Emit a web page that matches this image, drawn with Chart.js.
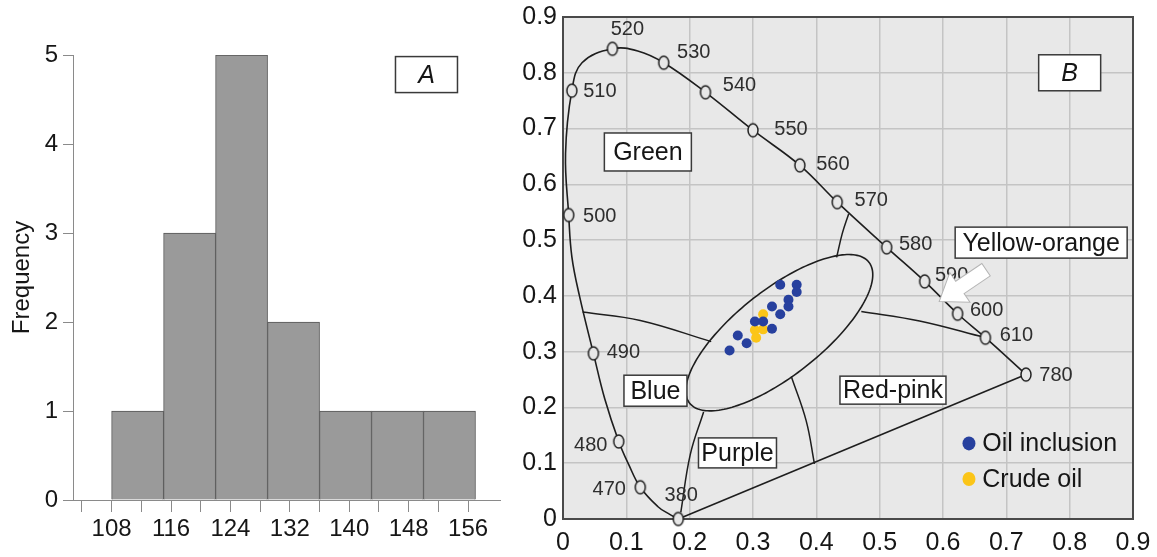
<!DOCTYPE html>
<html>
<head>
<meta charset="utf-8">
<script src="https://cdn.jsdelivr.net/npm/chart.js@4.4.1/dist/chart.umd.min.js"></script>
<style>
 html, body { margin:0; padding:0; background:#ffffff; overflow:hidden; }
 #boxA { position:absolute; left:0; top:0; width:505px; height:557px; }
 #boxB { position:absolute; left:505px; top:0; width:652px; height:557px; }
</style>
</head>
<body>
<div id="boxA"><canvas id="chartA" width="505" height="557"></canvas></div>
<div id="boxB"><canvas id="chartB" width="652" height="557"></canvas></div>
<script>
/* ================= DATA ================= */
/* Panel A: histogram */
const binEdges = [108, 115, 122, 129, 136, 143, 150, 157];
const frequencies = [1, 3, 5, 2, 1, 1, 1];
const histTickValues = [104, 108, 112, 116, 120, 124, 128, 132, 136, 140, 144, 148, 152, 156];
const histTickLabels = ['', '108', '', '116', '', '124', '', '132', '', '140', '', '148', '', '156'];
const freqTickValues = [0, 1, 2, 3, 4, 5];
const freqTickLabels = ['0', '1', '2', '3', '4', '5'];

/* Panel B: chromaticity diagram */
const locusX = [0.182, 0.166, 0.150, 0.122, 0.104, 0.088, 0.066, 0.048, 0.026, 0.014, 0.009, 0.004, 0.014, 0.030, 0.078, 0.118, 0.159, 0.225, 0.300, 0.374, 0.433, 0.511, 0.571, 0.623, 0.667, 0.731];
const locusY = [0.000, 0.010, 0.022, 0.057, 0.097, 0.139, 0.215, 0.297, 0.400, 0.470, 0.545, 0.655, 0.768, 0.818, 0.843, 0.839, 0.818, 0.765, 0.697, 0.634, 0.568, 0.487, 0.426, 0.368, 0.325, 0.259];
const locusNm = ['380', '', '', '470', '', '480', '', '490', '', '', '500', '', '510', '', '520', '', '530', '540', '550', '560', '570', '580', '590', '600', '610', '780'];

const greenBlueX = [0.031, 0.122, 0.234];
const greenBlueY = [0.371, 0.356, 0.318];
const yellowRedX = [0.471, 0.563, 0.667];
const yellowRedY = [0.372, 0.355, 0.325];
const greenYellowX = [0.451, 0.441, 0.432];
const greenYellowY = [0.547, 0.512, 0.469];
const bluePurpleX = [0.222, 0.201, 0.186];
const bluePurpleY = [0.192, 0.116, 0.012];
const purpleRedX = [0.3605, 0.384, 0.397];
const purpleRedY = [0.2555, 0.176, 0.099];

const oilInclusionX = [0.343, 0.369, 0.369, 0.356, 0.356, 0.330, 0.343, 0.303, 0.316, 0.330, 0.276, 0.290, 0.263];
const oilInclusionY = [0.420, 0.420, 0.407, 0.393, 0.381, 0.381, 0.367, 0.354, 0.354, 0.341, 0.329, 0.315, 0.302];
const crudeOilX = [0.316, 0.303, 0.316, 0.305];
const crudeOilY = [0.367, 0.339, 0.340, 0.325];

const ellipseCenter = [0.3415, 0.334];
const ellipseSemiAxes = [0.190, 0.073];
const ellipseAngleDeg = 43;

const regionNames = ['Green', 'Yellow-orange', 'Blue', 'Purple', 'Red-pink'];
const regionAnchorX = [0.134, 0.755, 0.146, 0.2755, 0.521];
const regionAnchorY = [0.658, 0.4955, 0.230, 0.1185, 0.231];

const arrowTip = [0.594, 0.390];
const arrowTail = [0.668, 0.447];

const cieTickValues = [0, 0.1, 0.2, 0.3, 0.4, 0.5, 0.6, 0.7, 0.8, 0.9];
const cieTickLabels = ['0', '0.1', '0.2', '0.3', '0.4', '0.5', '0.6', '0.7', '0.8', '0.9'];

/* ================= STYLE ================= */
const FONT = '"Liberation Sans", Arial, Helvetica, sans-serif';
const TEXT = '#161616';
const regionBoxSize = { 'Green': [87, 38], 'Yellow-orange': [172, 31], 'Blue': [63, 31], 'Purple': [78, 30], 'Red-pink': [106, 28] };
const nmOffset = {
  '380': [3, -24], '470': [-31, 2], '480': [-28, 4], '490': [30, -1], '500': [31, 1], '510': [28, 1],
  '520': [15, -19], '530': [30, -10], '540': [34, -7], '550': [38, -1], '560': [33, -1], '570': [34, -2],
  '580': [29, -3], '590': [27, -6], '600': [29, -3], '610': [31, -2], '780': [30, 1]
};
const panelLabelA = { text: 'A', x: 150.4, y: 4.78, w: 62, h: 36 };
const panelLabelB = { text: 'B', x: 0.80, y: 0.80, w: 62, h: 36 };
const legendAnchor = { x: 0.641, y0: 0.1355, y1: 0.0716, textX: 0.662 };

function drawBox(ctx, cx, cy, w, h, text, italic) {
  ctx.save();
  ctx.fillStyle = '#ffffff';
  ctx.fillRect(cx - w / 2, cy - h / 2, w, h);
  ctx.lineWidth = 1.5;
  ctx.strokeStyle = '#3a3a3a';
  ctx.strokeRect(cx - w / 2, cy - h / 2, w, h);
  ctx.fillStyle = TEXT;
  ctx.font = (italic ? 'italic ' : '') + '25px ' + FONT;
  ctx.textAlign = 'center';
  ctx.textBaseline = 'middle';
  ctx.fillText(text, cx, cy + 1);
  ctx.restore();
}

/* ================= PANEL A ================= */
const histData = frequencies.map((f, i) => ({ x: (binEdges[i] + binEdges[i + 1]) / 2, y: f }));

const panelAPlugin = {
  id: 'panelA',
  afterDatasetsDraw(chart) {
    const xs = chart.scales.x, ys = chart.scales.y;
    drawBox(chart.ctx, xs.getPixelForValue(panelLabelA.x), ys.getPixelForValue(panelLabelA.y),
      panelLabelA.w, panelLabelA.h, panelLabelA.text, true);
  }
};

new Chart(document.getElementById('chartA'), {
  type: 'bar',
  data: { datasets: [{
    data: histData,
    backgroundColor: '#9a9a9a',
    borderColor: '#555555',
    borderWidth: 1,
    barThickness: 'flex',
    barPercentage: 1,
    categoryPercentage: 1
  }] },
  options: {
    responsive: false, animation: false, devicePixelRatio: 1,
    layout: { padding: { top: 55, right: 5, left: 0, bottom: 0 } },
    plugins: { legend: { display: false }, tooltip: { enabled: false } },
    scales: {
      x: {
        type: 'linear', min: 102.8, max: 160.3, offset: false,
        afterBuildTicks: s => { s.ticks = histTickValues.map(v => ({ value: v })); },
        afterFit: s => { s.height = 57; s.paddingLeft = 0; s.paddingRight = 0; },
        ticks: { autoSkip: false, maxRotation: 0, padding: 3, color: TEXT, font: { family: FONT, size: 24 },
          callback: (v, i) => histTickLabels[i] },
        grid: { offset: false, drawOnChartArea: false, drawTicks: true, tickLength: 12, color: '#8a8a8a', lineWidth: 1 },
        border: { display: true, color: '#8a8a8a', width: 1 }
      },
      y: {
        min: 0, max: 5,
        afterBuildTicks: s => { s.ticks = freqTickValues.map(v => ({ value: v })); },
        afterFit: s => { s.width = 73; s.paddingTop = 0; s.paddingBottom = 0; },
        ticks: { padding: 5, color: TEXT, font: { family: FONT, size: 24 }, callback: (v, i) => freqTickLabels[i] },
        grid: { drawOnChartArea: false, drawTicks: true, tickLength: 10, color: '#8a8a8a', lineWidth: 1 },
        border: { display: true, color: '#8a8a8a', width: 1 },
        title: { display: true, text: 'Frequency', color: TEXT, font: { family: FONT, size: 24 }, padding: { top: 8, bottom: 0 } }
      }
    }
  },
  plugins: [panelAPlugin]
});

/* ================= PANEL B ================= */
function makeMarker() {
  const c = document.createElement('canvas');
  c.width = 14; c.height = 17;
  const g = c.getContext('2d');
  g.beginPath();
  g.ellipse(7, 8.5, 5, 6.5, 0, 0, Math.PI * 2);
  g.fillStyle = '#e7e7e7';
  g.fill();
  g.lineWidth = 1.5;
  g.strokeStyle = '#222222';
  g.stroke();
  return c;
}
const markerImg = makeMarker();

const pts = (xs, ys) => xs.map((x, i) => ({ x: x, y: ys[i] }));
const lineDS = (xs, ys, tension) => ({
  data: pts(xs, ys), showLine: true, pointRadius: 0, borderColor: '#1e1e1e', borderWidth: 1.5,
  tension: tension, fill: false
});

const panelBPlugin = {
  id: 'panelB',
  beforeDraw(chart) {
    const a = chart.chartArea, ctx = chart.ctx;
    ctx.save();
    ctx.fillStyle = '#e8e8e8';
    ctx.fillRect(a.left, a.top, a.right - a.left, a.bottom - a.top);
    ctx.restore();
  },
  beforeDatasetsDraw(chart) {
    const a = chart.chartArea, ctx = chart.ctx;
    const xs = chart.scales.x, ys = chart.scales.y;
    ctx.save();
    ctx.lineWidth = 2;
    ctx.strokeStyle = '#4a4a4a';
    ctx.strokeRect(a.left, a.top, a.right - a.left, a.bottom - a.top);
    // ellipse (from centre, semi-axes, angle in data units)
    const th = ellipseAngleDeg * Math.PI / 180;
    ctx.beginPath();
    for (let k = 0; k <= 180; k++) {
      const t = k / 180 * Math.PI * 2;
      const u = ellipseSemiAxes[0] * Math.cos(t), v = ellipseSemiAxes[1] * Math.sin(t);
      const dx = ellipseCenter[0] + u * Math.cos(th) - v * Math.sin(th);
      const dy = ellipseCenter[1] + u * Math.sin(th) + v * Math.cos(th);
      const px = xs.getPixelForValue(dx), py = ys.getPixelForValue(dy);
      if (k === 0) ctx.moveTo(px, py); else ctx.lineTo(px, py);
    }
    ctx.closePath();
    ctx.lineWidth = 1.6;
    ctx.strokeStyle = '#1e1e1e';
    ctx.stroke();
    ctx.restore();
  },
  afterDatasetsDraw(chart) {
    const ctx = chart.ctx;
    const xs = chart.scales.x, ys = chart.scales.y;
    // wavelength labels
    ctx.save();
    ctx.font = '20px ' + FONT;
    ctx.fillStyle = '#2e2e2e';
    ctx.textAlign = 'center';
    ctx.textBaseline = 'middle';
    locusNm.forEach((nm, i) => {
      if (!nm) return;
      const o = nmOffset[nm];
      ctx.fillText(nm, xs.getPixelForValue(locusX[i]) + o[0], ys.getPixelForValue(locusY[i]) + o[1]);
    });
    ctx.restore();
    // arrow
    const tx = xs.getPixelForValue(arrowTip[0]), ty = ys.getPixelForValue(arrowTip[1]);
    const sx = xs.getPixelForValue(arrowTail[0]), sy = ys.getPixelForValue(arrowTail[1]);
    const ang = Math.atan2(ty - sy, tx - sx), len = Math.hypot(tx - sx, ty - sy);
    const sw = 7.5, hw = 18, hl = 25;
    ctx.save();
    ctx.translate(sx, sy); ctx.rotate(ang);
    ctx.beginPath();
    ctx.moveTo(0, -sw); ctx.lineTo(len - hl, -sw); ctx.lineTo(len - hl, -hw); ctx.lineTo(len, 0);
    ctx.lineTo(len - hl, hw); ctx.lineTo(len - hl, sw); ctx.lineTo(0, sw); ctx.closePath();
    ctx.fillStyle = '#ffffff'; ctx.fill();
    ctx.lineWidth = 1; ctx.strokeStyle = '#b5b5b5'; ctx.stroke();
    ctx.restore();
    // region boxes
    regionNames.forEach((n, i) => {
      const sz = regionBoxSize[n];
      drawBox(ctx, xs.getPixelForValue(regionAnchorX[i]), ys.getPixelForValue(regionAnchorY[i]), sz[0], sz[1], n, false);
    });
    drawBox(ctx, xs.getPixelForValue(panelLabelB.x), ys.getPixelForValue(panelLabelB.y), panelLabelB.w, panelLabelB.h, panelLabelB.text, true);
    // legend
    const legendSets = [chart.data.datasets[0], chart.data.datasets[1]];
    const ly = [legendAnchor.y0, legendAnchor.y1];
    ctx.save();
    legendSets.forEach((ds, i) => {
      const px = xs.getPixelForValue(legendAnchor.x), py = ys.getPixelForValue(ly[i]);
      ctx.beginPath();
      ctx.ellipse(px, py, 6.5, 7, 0, 0, Math.PI * 2);
      ctx.fillStyle = ds.backgroundColor; ctx.fill();
      ctx.font = '25px ' + FONT; ctx.fillStyle = TEXT;
      ctx.textAlign = 'left'; ctx.textBaseline = 'middle';
      ctx.fillText(ds.label, xs.getPixelForValue(legendAnchor.textX), py + 1);
    });
    ctx.restore();
  }
};

new Chart(document.getElementById('chartB'), {
  type: 'scatter',
  data: { datasets: [
    { label: 'Oil inclusion', data: pts(oilInclusionX, oilInclusionY), backgroundColor: '#27409e', borderWidth: 0, pointRadius: 5, pointHoverRadius: 5 },
    { label: 'Crude oil', data: pts(crudeOilX, crudeOilY), backgroundColor: '#fbc518', borderWidth: 0, pointRadius: 5, pointHoverRadius: 5 },
    { label: 'locus', data: pts(locusX, locusY), showLine: true, tension: 0.4, borderColor: '#1e1e1e', borderWidth: 1.6,
      pointStyle: markerImg, pointRadius: c => (locusNm[c.dataIndex] ? 6 : 0), clip: false, fill: false },
    { label: 'purple line', data: [ { x: locusX[0], y: locusY[0] }, { x: locusX[locusX.length - 1], y: locusY[locusY.length - 1] } ],
      showLine: true, pointRadius: 0, borderColor: '#1e1e1e', borderWidth: 1.6, tension: 0 },
    lineDS(greenBlueX, greenBlueY, 0.4),
    lineDS(yellowRedX, yellowRedY, 0.4),
    lineDS(greenYellowX, greenYellowY, 0.4),
    lineDS(bluePurpleX, bluePurpleY, 0.4),
    lineDS(purpleRedX, purpleRedY, 0.4)
  ] },
  options: {
    responsive: false, animation: false, devicePixelRatio: 1,
    layout: { padding: { top: 17, right: 24, left: 0, bottom: 0 } },
    plugins: { legend: { display: false }, tooltip: { enabled: false } },
    scales: {
      x: {
        type: 'linear', min: 0, max: 0.9,
        afterBuildTicks: s => { s.ticks = cieTickValues.map(v => ({ value: v })); },
        afterFit: s => { s.height = 38; s.paddingLeft = 0; s.paddingRight = 0; },
        ticks: { autoSkip: false, maxRotation: 0, padding: 9, color: TEXT, font: { family: FONT, size: 25 },
          callback: (v, i) => cieTickLabels[i] },
        grid: { drawTicks: false, color: '#c4c4c4', lineWidth: 1.5 },
        border: { display: false }
      },
      y: {
        type: 'linear', min: 0, max: 0.9,
        afterBuildTicks: s => { s.ticks = cieTickValues.map(v => ({ value: v })); },
        afterFit: s => { s.width = 58; s.paddingTop = 0; s.paddingBottom = 0; },
        ticks: { padding: 6, color: TEXT, font: { family: FONT, size: 25 }, callback: (v, i) => cieTickLabels[i] },
        grid: { drawTicks: false, color: '#c4c4c4', lineWidth: 1.5 },
        border: { display: false }
      }
    }
  },
  plugins: [panelBPlugin]
});
</script>
</body>
</html>
